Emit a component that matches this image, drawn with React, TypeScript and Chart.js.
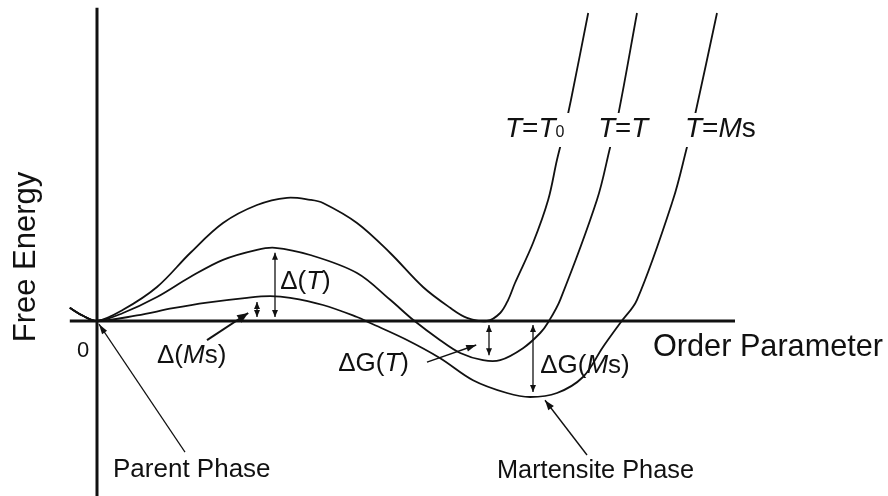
import React, { useEffect, useRef } from "react";
import { Chart, registerables } from "chart.js";

Chart.register(...registerables);

// Free-energy curves versus order parameter (arbitrary units) at three temperatures.
const T0_ORDER = [-0.68, -0.35, 0, 0.65, 1.5, 2.33, 3.15, 4.0, 4.75, 5.33, 5.65, 6.5, 7.33, 8.15, 8.83, 9.25, 9.75, 10.08, 10.28, 10.45, 10.9, 11.28, 11.5, 11.68, 11.85, 12.28];
const T0_ENERGY = [0.33, 0.13, 0, 0.28, 0.85, 1.7, 2.45, 2.9, 3.08, 3.03, 2.95, 2.45, 1.7, 0.85, 0.33, 0.08, 0, 0.2, 0.53, 0.95, 1.95, 3.03, 4.03, 4.75, 5.53, 7.7];

const T_ORDER = [-0.68, -0.35, 0, 0.65, 1.5, 2.33, 3.15, 4.0, 4.45, 5.33, 6.5, 7.33, 7.9, 8.58, 9.08, 9.65, 10.08, 10.65, 11.08, 11.28, 11.58, 12.5, 12.83, 13.03, 13.5];
const T_ENERGY = [0.33, 0.13, 0, 0.2, 0.6, 1.1, 1.53, 1.78, 1.83, 1.65, 1.2, 0.53, 0.03, -0.48, -0.8, -0.98, -0.98, -0.68, -0.3, -0.03, 0.53, 3.03, 4.35, 5.15, 7.7];

const MS_ORDER = [-0.68, -0.35, 0, 1.0, 1.9, 2.75, 3.75, 4.33, 4.83, 5.65, 6.5, 6.83, 7.7, 8.58, 9.4, 10.25, 10.83, 11.5, 12.15, 12.65, 13.08, 13.5, 14.4, 14.75, 14.95, 15.5];
const MS_ENERGY = [0.33, 0.13, 0, 0.14, 0.32, 0.46, 0.58, 0.62, 0.58, 0.4, 0.1, -0.05, -0.45, -0.93, -1.48, -1.8, -1.9, -1.8, -1.4, -0.65, -0.05, 0.53, 3.03, 4.35, 5.15, 7.7];

// Barrier heights and driving forces marked with double arrows: [order parameter, energy]
const BARRIER_T = [4.45, 1.83];
const BARRIER_MS = [4.0, 0.6];
const DRIVE_T = [9.8, -0.98];
const DRIVE_MS = [10.9, -1.9];

const FONT = '"Liberation Sans", Arial, Helvetica, sans-serif';
const INK = "#111";

type Part = { t: string; italic?: boolean; size?: number; dy?: number };

function toPoints(xs: number[], ys: number[]) {
  return xs.map((x, i) => ({ x, y: ys[i] }));
}

function drawRich(ctx: CanvasRenderingContext2D, parts: Part[], x: number, y: number, size: number, maxWidth?: number) {
  const fontFor = (p: Part) => `${p.italic ? "italic " : ""}${p.size ?? size}px ${FONT}`;
  let total = 0;
  const widths = parts.map((p) => {
    ctx.font = fontFor(p);
    const w = ctx.measureText(p.t).width;
    total += w;
    return w;
  });
  const k = maxWidth && total > maxWidth ? maxWidth / total : 1;
  ctx.save();
  ctx.translate(x, y);
  ctx.scale(k, 1);
  ctx.textBaseline = "alphabetic";
  ctx.textAlign = "left";
  let cx = 0;
  parts.forEach((p, i) => {
    ctx.font = fontFor(p);
    ctx.fillText(p.t, cx, p.dy ?? 0);
    cx += widths[i];
  });
  ctx.restore();
  return total * k;
}

function arrowHead(ctx: CanvasRenderingContext2D, fx: number, fy: number, tx: number, ty: number, len: number, half: number) {
  const a = Math.atan2(ty - fy, tx - fx);
  const c = Math.cos(a);
  const s = Math.sin(a);
  ctx.beginPath();
  ctx.moveTo(tx, ty);
  ctx.lineTo(tx - len * c + half * s, ty - len * s - half * c);
  ctx.lineTo(tx - len * c - half * s, ty - len * s + half * c);
  ctx.closePath();
  ctx.fill();
}

const diagramPlugin = {
  id: "diagram",
  beforeDatasetsDraw(chart: any) {
    const ctx: CanvasRenderingContext2D = chart.ctx;
    const xs = chart.scales.x;
    const ys = chart.scales.y;
    const X = (v: number) => xs.getPixelForValue(v);
    const Y = (v: number) => ys.getPixelForValue(v);
    ctx.save();
    ctx.strokeStyle = INK;
    ctx.lineWidth = 3;
    ctx.lineCap = "butt";
    // order-parameter axis
    ctx.beginPath();
    ctx.moveTo(X(-0.68), Y(0));
    ctx.lineTo(X(15.95), Y(0));
    ctx.stroke();
    // free-energy axis
    ctx.beginPath();
    ctx.moveTo(X(0), Y(7.83));
    ctx.lineTo(X(0), Y(ys.min));
    ctx.stroke();
    ctx.restore();
  },
  afterDatasetsDraw(chart: any) {
    const ctx: CanvasRenderingContext2D = chart.ctx;
    const xs = chart.scales.x;
    const ys = chart.scales.y;
    const X = (v: number) => xs.getPixelForValue(v);
    const Y = (v: number) => ys.getPixelForValue(v);
    ctx.save();
    ctx.fillStyle = INK;
    ctx.strokeStyle = INK;

    // double arrows between the axis and a curve
    const dbl = (pt: number[]) => {
      const x = X(pt[0]);
      const sign = pt[1] > 0 ? 1 : -1;
      const y0 = Y(0) - sign * 4;
      const y1 = Y(pt[1]) + sign * 5;
      ctx.lineWidth = 1.3;
      ctx.beginPath();
      ctx.moveTo(x, y0);
      ctx.lineTo(x, y1);
      ctx.stroke();
      arrowHead(ctx, x, y1, x, y0, 7, 3);
      arrowHead(ctx, x, y0, x, y1, 7, 3);
    };
    dbl(BARRIER_T);
    dbl(BARRIER_MS);
    dbl(DRIVE_T);
    dbl(DRIVE_MS);

    // pointer arrows
    const pointer = (from: number[], to: number[], width: number, len: number, half: number) => {
      const fx = X(from[0]);
      const fy = Y(from[1]);
      const tx = X(to[0]);
      const ty = Y(to[1]);
      ctx.lineWidth = width;
      ctx.beginPath();
      ctx.moveTo(fx, fy);
      ctx.lineTo(tx, ty);
      ctx.stroke();
      arrowHead(ctx, fx, fy, tx, ty, len, half);
    };
    pointer([2.75, -0.48], [3.78, 0.2], 2, 11, 4.5);
    pointer([8.25, -1.03], [9.48, -0.6], 1.4, 10, 3.5);
    pointer([2.2, -3.28], [0.05, -0.08], 1.2, 10, 3);
    pointer([12.25, -3.35], [11.2, -1.98], 1.4, 10, 3.5);

    // temperature labels on the right branches, with the curves broken behind them
    const tLabels: { at: number[]; parts: Part[]; max: number }[] = [
      { at: [10.2, 4.6], parts: [{ t: "T", italic: true }, { t: "=" }, { t: "T", italic: true }, { t: "0", size: 16 }], max: 61 },
      { at: [12.53, 4.6], parts: [{ t: "T", italic: true }, { t: "=" }, { t: "T", italic: true }], max: 50 },
      { at: [14.7, 4.6], parts: [{ t: "T", italic: true }, { t: "=" }, { t: "M", italic: true }, { t: "s" }], max: 74 },
    ];
    tLabels.forEach((l) => {
      const x = X(l.at[0]);
      const y = Y(l.at[1]);
      ctx.fillStyle = "#fff";
      ctx.fillRect(x - 3, y - 24, l.max + 6, 34);
      ctx.fillStyle = INK;
      drawRich(ctx, l.parts, x, y, 28, l.max);
    });

    // quantity labels
    const labels: { at: number[]; parts: Part[]; size: number; max?: number }[] = [
      { at: [4.58, 0.8], parts: [{ t: "Δ(" }, { t: "T", italic: true }, { t: ")" }], size: 26, max: 54 },
      { at: [1.5, -1.05], parts: [{ t: "Δ(" }, { t: "M", italic: true }, { t: "s)" }], size: 26, max: 72 },
      { at: [6.03, -1.25], parts: [{ t: "ΔG(" }, { t: "T", italic: true }, { t: ")" }], size: 26, max: 73 },
      { at: [11.08, -1.3], parts: [{ t: "ΔG(" }, { t: "M", italic: true }, { t: "s)" }], size: 26, max: 93 },
      { at: [13.9, -0.88], parts: [{ t: "Order Parameter" }], size: 32, max: 230 },
      { at: [-0.5, -0.9], parts: [{ t: "0" }], size: 22 },
      { at: [0.4, -3.9], parts: [{ t: "Parent Phase" }], size: 26, max: 158 },
      { at: [10.0, -3.93], parts: [{ t: "Martensite Phase" }], size: 26, max: 197 },
    ];
    labels.forEach((l) => drawRich(ctx, l.parts, X(l.at[0]), Y(l.at[1]), l.size, l.max));

    // vertical axis title
    ctx.save();
    ctx.translate(X(-1.55), Y(1.6));
    ctx.rotate(-Math.PI / 2);
    ctx.font = `31px ${FONT}`;
    ctx.textAlign = "center";
    ctx.textBaseline = "alphabetic";
    ctx.fillText("Free Energy", 0, 0, 172);
    ctx.restore();

    ctx.restore();
  },
};

export default function App() {
  const canvasRef = useRef<HTMLCanvasElement | null>(null);

  useEffect(() => {
    if (!canvasRef.current) return;
    const curve = (xs: number[], ys: number[]) => ({
      data: toPoints(xs, ys),
      borderColor: INK,
      borderWidth: 1.8,
      pointRadius: 0,
      fill: false,
      tension: 0.35,
    });
    const chart = new Chart(canvasRef.current, {
      type: "line",
      data: {
        datasets: [curve(T0_ORDER, T0_ENERGY), curve(T_ORDER, T_ENERGY), curve(MS_ORDER, MS_ENERGY)],
      },
      options: {
        responsive: false,
        animation: false,
        devicePixelRatio: 1,
        layout: { padding: 0 },
        plugins: { legend: { display: false }, tooltip: { enabled: false } },
        events: [],
        scales: {
          x: { type: "linear", min: -2.425, max: 19.775, display: false },
          y: { type: "linear", min: -4.375, max: 8.025, display: false },
        },
      },
      plugins: [diagramPlugin],
    });
    return () => chart.destroy();
  }, []);

  return (
    <div style={{ position: "fixed", left: 0, top: 0, width: 888, height: 496, background: "#fff" }}>
      <canvas ref={canvasRef} width={888} height={496} />
    </div>
  );
}
